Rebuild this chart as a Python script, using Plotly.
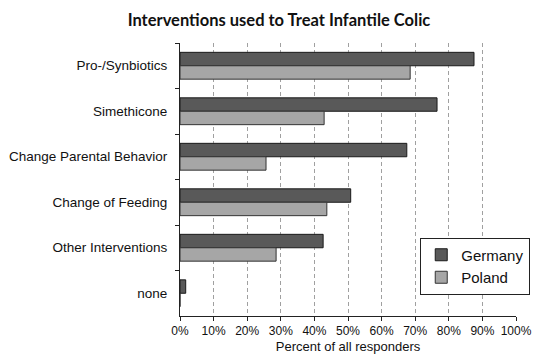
import plotly.graph_objects as go

categories = ["Pro-/Synbiotics", "Simethicone", "Change Parental Behavior",
              "Change of Feeding", "Other Interventions", "none"]
germany = [87.5, 76.5, 67.5, 50.8, 42.6, 1.7]
poland = [68.5, 42.9, 25.6, 43.7, 28.6, 0]
tick_vals = [0, 10, 20, 30, 40, 50, 60, 70, 80, 90, 100]
tick_text = [f"{v}%" for v in tick_vals]

fig = go.Figure()
fig.add_trace(go.Bar(y=categories, x=germany, name="Germany", orientation="h",
                     marker=dict(color="#595959", line=dict(color="#1a1a1a", width=1))))
fig.add_trace(go.Bar(y=categories, x=poland, name="Poland", orientation="h",
                     marker=dict(color="#a6a6a6", line=dict(color="#333333", width=1))))

# page body has an 8px default margin, so the figure is offset by 8px
fig.update_layout(
    width=542, height=355,
    margin=dict(l=172, r=34, t=35, b=47, autoexpand=False),
    paper_bgcolor="white", plot_bgcolor="white",
    barmode="group", bargap=0.41, bargroupgap=0,
    font=dict(family="Liberation Sans, Arial", size=12, color="#111"),
    title=dict(text="<b>Interventions used to Treat Infantile Colic</b>",
               x=0.5, xanchor="center", y=0.965, yanchor="middle",
               font=dict(family="Lato, Open Sans", size=16.5, color="#111")),
    xaxis=dict(range=[0, 100], tickvals=tick_vals, ticktext=tick_text,
               showgrid=True, gridcolor="#a0a0a0", griddash="4px,3px", gridwidth=1,
               showline=True, linecolor="#222", linewidth=1,
               ticks="outside", ticklen=4, tickcolor="#222",
               title=dict(text="Percent of all responders", standoff=4, font=dict(size=13)),
               tickfont=dict(size=12), zeroline=False, fixedrange=True, automargin=False),
    yaxis=dict(autorange="reversed", showline=True, linecolor="#222", linewidth=1,
               ticks="outside", ticklen=4, tickcolor="#222", tickson="boundaries",
               ticklabelstandoff=9,
               showgrid=False, tickfont=dict(size=13.5), fixedrange=True, automargin=False),
    legend=dict(x=0.715, y=0.2875, xanchor="left", yanchor="top",
                bgcolor="white", bordercolor="#222", borderwidth=1,
                font=dict(size=15, color="#111"), traceorder="normal",
                tracegroupgap=0),
    showlegend=True,
)

fig.write_html("out.html")
